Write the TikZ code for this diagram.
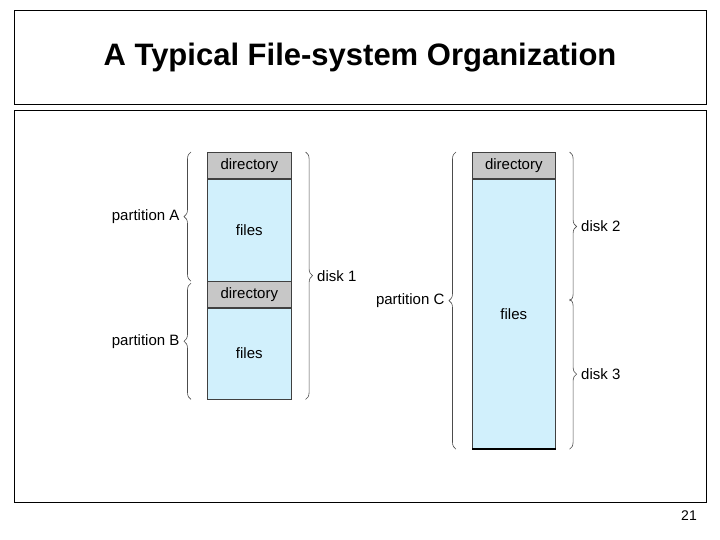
\documentclass[tikz,border=0pt]{standalone}
\usepackage{fontspec}
\setmainfont{Liberation Sans}
\usetikzlibrary{positioning,decorations.pathreplacing}

\tikzset{
  blk/.style={draw=black!75, line width=0.6pt, minimum width=84pt, inner sep=0pt, font=\fontsize{15}{17}\selectfont},
  dirblk/.style={blk, fill=black!22, minimum height=26pt},
  fileblk/.style={blk, fill=cyan!18},
  brc/.style={draw=black!70, line width=0.6pt, decorate, decoration={brace, amplitude=7pt}},
  lbl/.style={font=\fontsize{15}{17}\selectfont}
}

\begin{document}
\begin{tikzpicture}[x=1pt,y=-1pt]

	\useasboundingbox (0,0) rectangle (720,540);

	% frames
	\draw[line width=0.8pt] (14,10) rectangle (706,104);
	\draw[line width=0.8pt] (14,110) rectangle (706,502);
	\node[font=\fontsize{31}{35}\selectfont\bfseries] (title) at (360,58) {A Typical File-system Organization};
	\node[font=\fontsize{14}{16}\selectfont] (page) at (689,516) {21};

	% disk 1
	\node[dirblk, anchor=north west] (dirA) at (207,152) {directory};
	\node[fileblk, minimum height=102pt, below=0pt of dirA] (filesA) {files};
	\node[dirblk, below=0pt of filesA] (dirB) {directory};
	\node[fileblk, minimum height=91pt, below=0pt of dirB] (filesB) {files};

	% partition C
	\node[dirblk, anchor=north west, minimum width=83pt] (dirC) at (472,152) {directory};
	\node[fileblk, minimum width=83pt, minimum height=270pt, below=0pt of dirC] (filesC) {files};
	\draw[line width=1.5pt] (filesC.south west) -- (filesC.south east);

	% braces
	\draw[brc] ([xshift=-16pt]filesA.south west) -- ([xshift=-16pt]dirA.north west)
		node[midway, left=8pt, lbl] (partA) {partition A};
	\draw[brc] ([xshift=-16pt]filesB.south west) -- ([xshift=-16pt,yshift=-2pt]dirB.north west)
		node[midway, left=8pt, lbl] (partB) {partition B};
	\draw[brc] ([xshift=14pt]dirA.north east) -- ([xshift=14pt]filesB.south east)
		node[midway, right=8pt, lbl] (disk1) {disk 1};
	\draw[brc] ([xshift=-16pt]filesC.south west) -- ([xshift=-16pt]dirC.north west)
		node[midway, left=8pt, lbl] (partC) {partition C};
	\coordinate (cmid) at ([xshift=14pt]filesC.east |- 0,300);
	\draw[brc] ([xshift=14pt]dirC.north east) -- ([yshift=-1pt]cmid)
		node[midway, right=8pt, lbl] (disk2) {disk 2};
	\draw[brc] ([yshift=1pt]cmid) -- ([xshift=14pt]filesC.south east)
		node[midway, right=8pt, lbl] (disk3) {disk 3};

\end{tikzpicture}
\end{document}
